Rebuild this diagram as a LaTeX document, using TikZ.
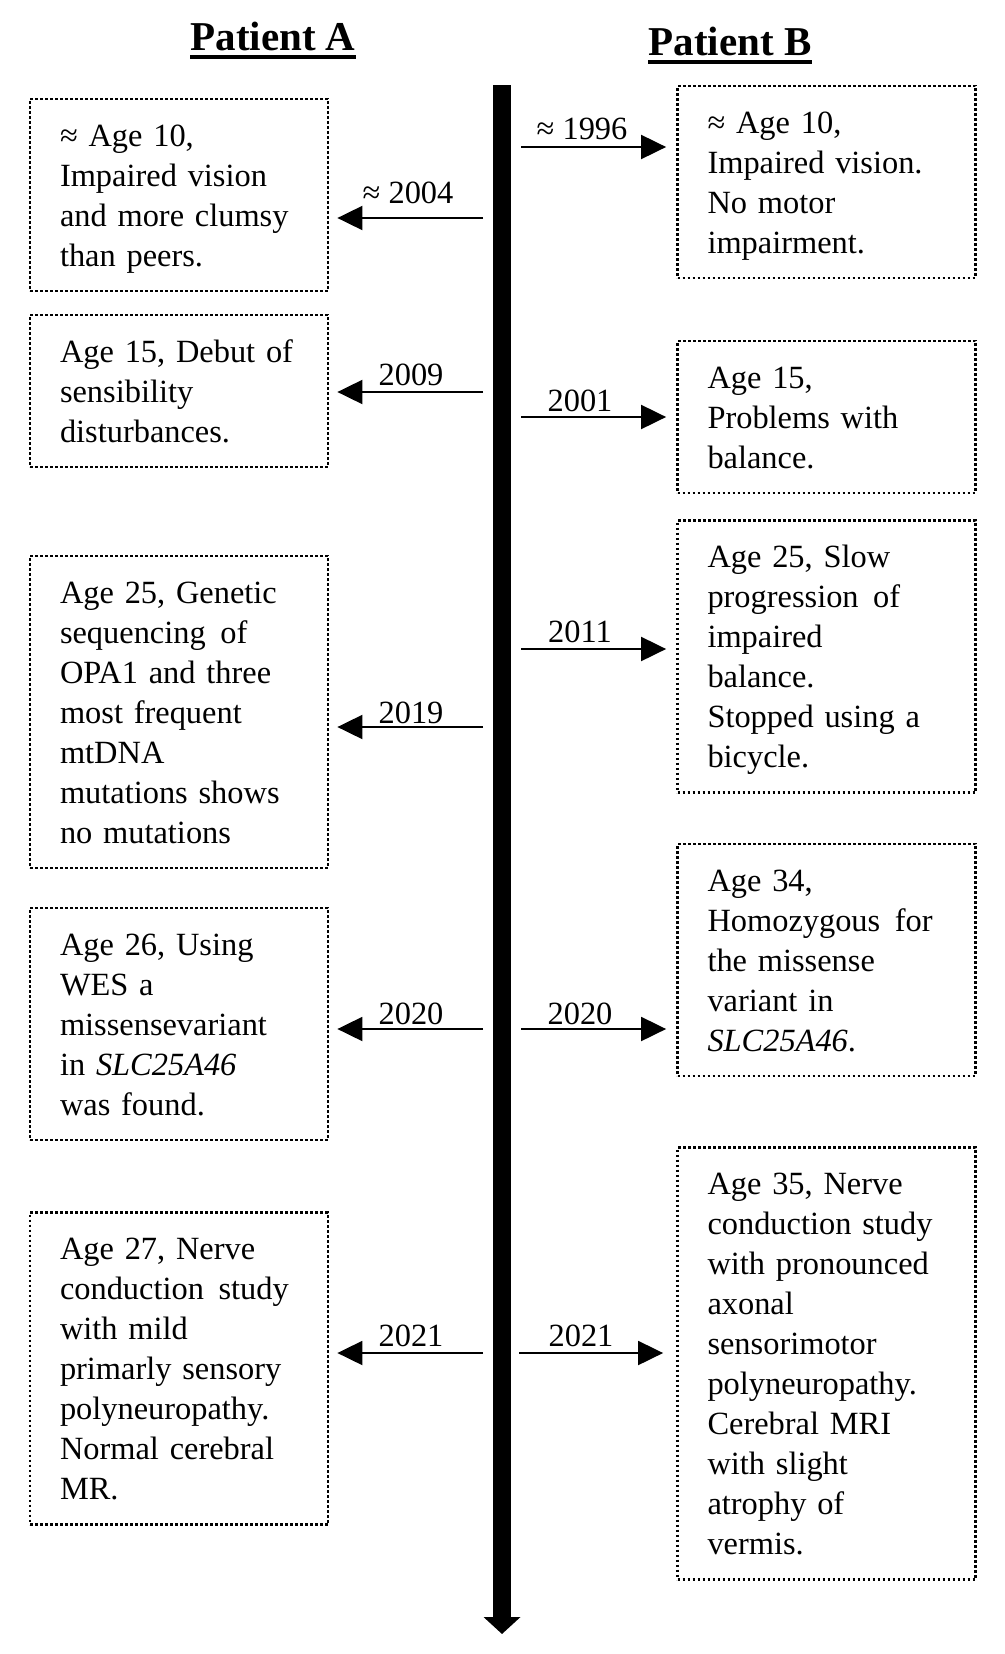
\documentclass[tikz,border=0pt]{standalone}
\usepackage{fontspec}
\setmainfont{Liberation Serif}
\usetikzlibrary{arrows.meta}
\newcommand{\bxstrut}{\rule[-9pt]{0pt}{40pt}}
\newcommand{\wsp}{\hspace{0.45em}}
\begin{document}
\begin{tikzpicture}[x=1pt,y=-1pt,
  evbox/.style={draw, line width=2.8pt, dash pattern=on 2.8pt off 2.2pt, rectangle,
    minimum width=296pt, text width=238pt, inner xsep=30pt, inner ysep=0pt, align=left,
    font=\fontsize{32.4}{40}\selectfont, execute at begin node=\bxstrut, execute at end node=\bxstrut},
  yr/.style={font=\fontsize{32.4}{40}\selectfont, inner sep=0pt, anchor=base},
  evarr/.style={line width=2pt, -{Triangle[length=25pt,width=24pt]}},
  ttl/.style={font=\fontsize{41}{48}\selectfont\bfseries, inner sep=0pt, anchor=base},
  uline/.style={line width=3.5pt}
]
\fill[white] (0,0) rectangle (1004,1654);
\useasboundingbox (0,0) rectangle (1004,1654);

% titles
\node[ttl] (tA) at (273,51) {Patient A};
\draw[uline] ([yshift=-6pt]tA.base west) -- ([yshift=-6pt]tA.base east);
\node[ttl] (tB) at (730,56) {Patient B};
\draw[uline] ([yshift=-6pt]tB.base west) -- ([yshift=-6pt]tB.base east);

% timeline
\coordinate (ttop) at (502,85);
\coordinate (tbot) at (502,1634);
\draw[line width=18pt, -{Triangle[length=17pt,width=36pt]}] (ttop) -- (tbot);

% Patient A boxes
\node[evbox, minimum height=192pt] (A1) at (179,195) {≈ Age 10,\\Impaired vision\\and more clumsy\\than peers.};
\node[evbox, minimum height=152pt] (A2) at (179,391) {Age 15, Debut of\\sensibility\\disturbances.};
\node[evbox, minimum height=312pt] (A3) at (179,712) {Age 25, Genetic\\sequencing\wsp of\\OPA1 and three\\most frequent\\mtDNA\\mutations shows\\no mutations};
\node[evbox, minimum height=232pt] (A4) at (179,1024) {Age 26, Using\\WES a\\missensevariant\\in \textit{SLC25A46}\\was found.};
\node[evbox, minimum height=312pt] (A5) at (179,1368.5) {Age 27, Nerve\\conduction\wsp study\\with mild\\primarly sensory\\polyneuropathy.\\Normal cerebral\\MR.};

% Patient B boxes
\node[evbox, minimum height=192pt] (B1) at (826.5,182) {≈ Age 10,\\Impaired vision.\\No motor\\impairment.};
\node[evbox, minimum height=152pt] (B2) at (826.5,417) {Age 15,\\Problems with\\balance.};
\node[evbox, minimum height=272pt] (B3) at (826.5,656.5) {Age 25, Slow\\progression\wsp of\\impaired\\balance.\\Stopped using a\\bicycle.};
\node[evbox, minimum height=232pt] (B4) at (826.5,960) {Age 34,\\Homozygous\wsp for\\the missense\\variant in\\\textit{SLC25A46}.};
\node[evbox, minimum height=432pt] (B5) at (826.5,1363.5) {Age 35, Nerve\\conduction study\\with pronounced\\axonal\\sensorimotor\\polyneuropathy.\\Cerebral MRI\\with slight\\atrophy of\\vermis.};

% arrows to Patient A
\coordinate (sA1) at (483,218);
\coordinate (sA2) at (483,392);
\coordinate (sA3) at (483,727);
\coordinate (sA4) at (483,1029);
\coordinate (sA5) at (483,1353);
\draw[evarr, shorten >=8pt] (sA1) -- (sA1 -| A1.east);
\draw[evarr, shorten >=8pt] (sA2) -- (sA2 -| A2.east);
\draw[evarr, shorten >=8pt] (sA3) -- (sA3 -| A3.east);
\draw[evarr, shorten >=8pt] (sA4) -- (sA4 -| A4.east);
\draw[evarr, shorten >=8pt] (sA5) -- (sA5 -| A5.east);
\node[yr] (yA1) at (408,203) {≈ 2004};
\node[yr] (yA2) at (411,385) {2009};
\node[yr] (yA3) at (411,723) {2019};
\node[yr] (yA4) at (411,1024) {2020};
\node[yr] (yA5) at (411,1346) {2021};

% arrows to Patient B
\coordinate (sB1) at (521,147);
\coordinate (sB2) at (521,417);
\coordinate (sB3) at (521,649);
\coordinate (sB4) at (521,1029);
\coordinate (sB5) at (519,1353);
\draw[evarr, shorten >=10pt] (sB1) -- (sB1 -| B1.west);
\draw[evarr, shorten >=10pt] (sB2) -- (sB2 -| B2.west);
\draw[evarr, shorten >=10pt] (sB3) -- (sB3 -| B3.west);
\draw[evarr, shorten >=10pt] (sB4) -- (sB4 -| B4.west);
\draw[evarr, shorten >=13pt] (sB5) -- (sB5 -| B5.west);
\node[yr] (yB1) at (582,139) {≈ 1996};
\node[yr] (yB2) at (580,411) {2001};
\node[yr] (yB3) at (580,642) {2011};
\node[yr] (yB4) at (580,1024) {2020};
\node[yr] (yB5) at (581,1346) {2021};
\end{tikzpicture}
\end{document}
